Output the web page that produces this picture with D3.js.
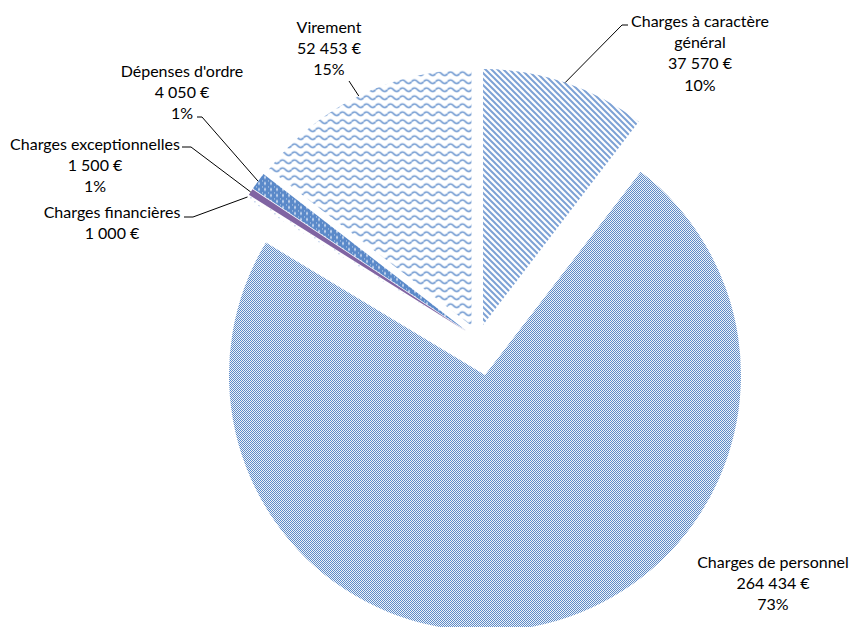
<!DOCTYPE html>
<html><head><meta charset="utf-8">
<script src="https://cdn.jsdelivr.net/npm/d3@7"></script>
<style>
html,body{margin:0;padding:0;background:#fff;}
svg{display:block;}
text{font-family:Lato,"Open Sans",sans-serif;font-size:16px;fill:#000;}
</style></head>
<body>
<svg id="chart" width="851" height="627"></svg>
<script>
// ---- data ----
const categories = ["Charges à caractère général","Charges de personnel","Charges financières","Charges exceptionnelles","Dépenses d'ordre","Virement"];
const values = [37570, 264434, 1000, 1500, 4050, 52453];
const percentLabels = ["10%","73%","","1%","1%","15%"];
const nameLines = [["Charges à caractère","général"],["Charges de personnel"],["Charges financières"],["Charges exceptionnelles"],["Dépenses d'ordre"],["Virement"]];

// ---- layout / style ----
const W = 851, H = 627;
const cx = 478.2, cy = 339.2, R = 256;
const explode = [15, 36.5, 15, 15, 15, 15];
const fills = ["url(#pStripe)","url(#pChecker)","url(#pSparse)","#8064a2","url(#pStar)","url(#pWave)"];
const labelPos = [
  {x:700, y:21, stub:[[622,25],[628,25]]},
  {x:773, y:562, stub:null},
  {x:112, y:212, stub:[[193,217],[184,217]]},
  {x:95,  y:144, stub:[[191,147],[182,147]]},
  {x:182, y:71,  stub:[[202,117],[197,117]]},
  {x:329, y:27,  stub:[[349,81]]}
];
const lineH = 21.3;

const svg = d3.select("#chart");
const defs = svg.append("defs");

// patterns
let p = defs.append("pattern").attr("id","pChecker").attr("patternUnits","userSpaceOnUse").attr("width",2).attr("height",2);
p.append("rect").attr("width",2).attr("height",2).attr("fill","#fff");
p.append("rect").attr("x",0).attr("y",0).attr("width",1).attr("height",1).attr("fill","#4d7fc1");
p.append("rect").attr("x",1).attr("y",1).attr("width",1).attr("height",1).attr("fill","#4d7fc1");

p = defs.append("pattern").attr("id","pStripe").attr("patternUnits","userSpaceOnUse").attr("width",6).attr("height",6);
p.append("rect").attr("width",6).attr("height",6).attr("fill","#fff");
p.append("path").attr("d","M-1,5 L1,7 M0,0 L6,6 M5,-1 L7,1").attr("stroke","#7ca1d5").attr("stroke-width",2);

p = defs.append("pattern").attr("id","pWave").attr("patternUnits","userSpaceOnUse").attr("width",12).attr("height",8);
p.append("rect").attr("width",12).attr("height",8).attr("fill","#fff");
p.append("path").attr("d","M0,4 Q3,0.5 6,4 Q9,7.5 12,4").attr("fill","none").attr("stroke","#6a95cf").attr("stroke-width",1.7);

p = defs.append("pattern").attr("id","pStar").attr("patternUnits","userSpaceOnUse").attr("width",6).attr("height",6);
p.append("rect").attr("width",6).attr("height",6).attr("fill","#5a89c9");
p.append("path").attr("d","M3,1 L4,3 L3,5 L2,3 Z").attr("fill","#dce7f5");
p.append("rect").attr("x",0).attr("y",0).attr("width",1).attr("height",1).attr("fill","#c6d7ee");

p = defs.append("pattern").attr("id","pSparse").attr("patternUnits","userSpaceOnUse").attr("width",8).attr("height",8);
p.append("rect").attr("width",8).attr("height",8).attr("fill","#fff");
p.append("rect").attr("x",1).attr("y",2).attr("width",1).attr("height",1).attr("fill","#7fa2d4");
p.append("rect").attr("x",5).attr("y",6).attr("width",1).attr("height",1).attr("fill","#7fa2d4");

const pie = d3.pie().sort(null).value(d => d).startAngle(0).endAngle(2*Math.PI);
const arcs = pie(values);
const arc = d3.arc().innerRadius(0).outerRadius(R);

function centerOf(i){
  const a = (arcs[i].startAngle + arcs[i].endAngle)/2;
  return [cx + explode[i]*Math.sin(a), cy - explode[i]*Math.cos(a)];
}
function outerMid(i){
  const a = (arcs[i].startAngle + arcs[i].endAngle)/2;
  const c = centerOf(i);
  return [c[0] + R*Math.sin(a), c[1] - R*Math.cos(a)];
}

svg.append("g").selectAll("path").data(arcs).join("path")
  .attr("transform",(d,i)=>`translate(${centerOf(i)})`)
  .attr("d",arc)
  .attr("fill",(d,i)=>fills[i]);

const fmtLocale = d3.formatLocale({decimal:",",thousands:"\u00a0",grouping:[3],currency:[""," €"]});
const fmt = fmtLocale.format(",");
const line = d3.line();
labelPos.forEach((lp,i)=>{
  if(!lp.stub) return;
  const pts = [outerMid(i), ...lp.stub];
  svg.append("path").attr("d",line(pts)).attr("fill","none").attr("stroke","#000").attr("stroke-width",1);
});

labelPos.forEach((lp,i)=>{
  const lines = [...nameLines[i], fmt(values[i]) + " €"];
  if(percentLabels[i]) lines.push(percentLabels[i]);
  const t = svg.append("text").attr("text-anchor","middle");
  lines.forEach((s,k)=>{
    t.append("tspan").attr("x",lp.x).attr("y",lp.y + k*lineH).attr("dy","0.35em").text(s);
  });
});
</script>
</body></html>
